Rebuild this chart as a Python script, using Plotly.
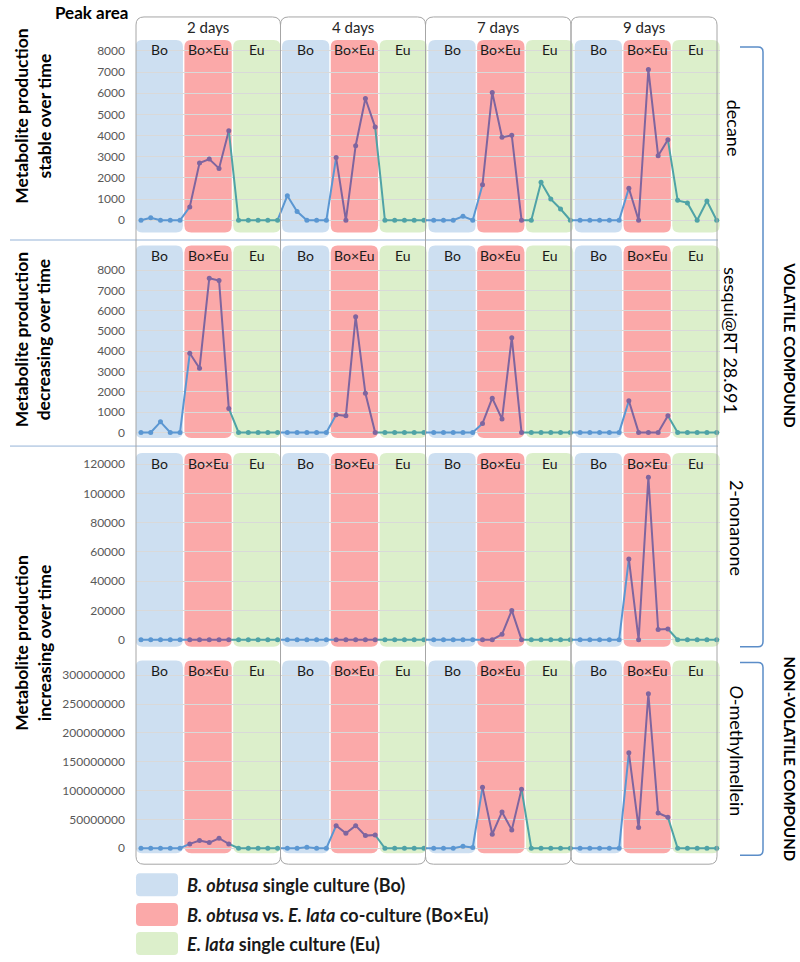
import plotly.graph_objects as go

W, H = 800, 962

days = ["2 days", "4 days", "7 days", "9 days"]
groups = ["Bo", "Bo×Eu", "Eu"]
compounds = ["decane", "sesqui@RT 28.691", "2-nonanone", "<i>O</i>-methylmellein"]

# peak areas, 15 samples per day: 5 Bo, 5 Bo×Eu, 5 Eu
decane = [
    0, 120, 0, 0, 0,  630, 2700, 2890, 2450, 4230,  0, 0, 0, 0, 0,
    1160, 410, 0, 0, 0,  2960, 0, 3520, 5750, 4400,  0, 0, 0, 0, 0,
    0, 0, 0, 190, 0,  1680, 6040, 3920, 4010, 0,  0, 1790, 1000, 530, 0,
    0, 0, 0, 0, 0,  1510, 0, 7120, 3050, 3800,  940, 820, 0, 910, 0,
]
sesqui = [
    0, 0, 520, 0, 0,  3900, 3160, 7600, 7490, 1180,  0, 0, 0, 0, 0,
    0, 0, 0, 0, 0,  870, 820, 5700, 1930, 0,  0, 0, 0, 0, 0,
    0, 0, 0, 0, 0,  440, 1690, 660, 4670, 0,  0, 0, 0, 0, 0,
    0, 0, 0, 0, 0,  1560, 0, 0, 0, 820,  0, 0, 0, 0, 0,
]
nonanone = [
    0, 0, 0, 0, 0,  0, 0, 0, 0, 0,  0, 0, 0, 0, 0,
    0, 0, 0, 0, 0,  0, 0, 0, 0, 0,  0, 0, 0, 0, 0,
    0, 0, 0, 0, 0,  0, 0, 3640, 20000, 0,  0, 0, 0, 0, 0,
    0, 0, 0, 0, 0,  55200, 0, 110900, 7000, 7270,  0, 0, 0, 0, 0,
]
methylmellein = [
    0, 0, 0, 0, 0,  7500000, 13300000, 9800000, 17300000, 7500000,  0, 0, 0, 0, 0,
    0, 0, 1700000, 0, 0,  39200000, 26000000, 39200000, 21900000, 23000000,  0, 0, 0, 0, 0,
    0, 0, 0, 3500000, 1200000,  105600000, 24200000, 62900000, 31700000, 102500000,  0, 0, 0, 0, 0,
    0, 0, 0, 0, 0,  165600000, 35800000, 268000000, 61100000, 53700000,  0, 0, 0, 0, 0,
]
series = [decane, sesqui, nonanone, methylmellein]

# row layout: pixel top/bottom, axis range, tick step
rows = [
    dict(top=40, bot=233, rng=[-580, 8520], ticks=list(range(0, 8001, 1000))),
    dict(top=246, bot=439, rng=[-280, 9215], ticks=list(range(0, 8001, 1000))),
    dict(top=454, bot=648, rng=[-4770, 127500], ticks=list(range(0, 120001, 20000))),
    dict(top=662, bot=855, rng=[-8.66e6, 325.4e6], ticks=list(range(0, 300000001, 50000000))),
]

fill_col = ["#cddff1", "#fba9a9", "#dcefcb"]
line_col = ["#5b97d2", "#7f659f", "#4fa3a6"]
FONT = "Lato, Open Sans, sans-serif"


def px(x):
    return x / W


def py(y):
    return 1 - y / H


def rrect(x0, x1, y0, y1, rx, ry):
    return (f"M{x0+rx},{y0} L{x1-rx},{y0} Q{x1},{y0} {x1},{y0+ry} "
            f"L{x1},{y1-ry} Q{x1},{y1} {x1-rx},{y1} L{x0+rx},{y1} "
            f"Q{x0},{y1} {x0},{y1-ry} L{x0},{y0+ry} Q{x0},{y0} {x0+rx},{y0} Z")


def label(text, x, y, size, xref="paper", angle=0, color="black", xanchor="center"):
    return dict(text=text, xref=xref, yref="paper", x=x, y=y, textangle=angle,
                xanchor=xanchor, yanchor="middle", showarrow=False,
                font=dict(size=size, color=color, family=FONT))


fig = go.Figure()
shapes = []
annotations = []
n = len(decane)
xs = list(range(n))

for r, (row, vals) in enumerate(zip(rows, series), start=1):
    xa, ya = f"x{r}", f"y{r}"
    # line segments coloured by group
    for g in range(3):
        lx, ly = [], []
        for d in range(4):
            s = d * 15 + g * 5
            idx = list(range(s, s + 5))
            if g == 0:
                if d > 0:
                    idx = [s - 1] + idx
                idx = idx + [s + 5]
            elif g == 2:
                idx = [s - 1] + idx
            lx += [xs[i] for i in idx] + [None]
            ly += [vals[i] for i in idx] + [None]
        fig.add_trace(go.Scatter(x=lx, y=ly, mode="lines", xaxis=xa, yaxis=ya,
                                 line=dict(color=line_col[g], width=2),
                                 showlegend=False, hoverinfo="skip"))
    for g in range(3):
        mx = [xs[i] for i in range(n) if (i % 15) // 5 == g]
        my = [vals[i] for i in range(n) if (i % 15) // 5 == g]
        fig.add_trace(go.Scatter(x=mx, y=my, mode="markers", xaxis=xa, yaxis=ya,
                                 marker=dict(color=line_col[g], size=5),
                                 showlegend=False))

    fig.update_layout(**{
        f"xaxis{r}": dict(domain=[px(136), px(720)], range=[-0.51, 59.34],
                          visible=False, anchor=ya),
        f"yaxis{r}": dict(domain=[py(row["bot"]), py(row["top"])], range=row["rng"],
                          tickvals=row["ticks"], tickformat="d", anchor=xa,
                          showgrid=True, gridcolor="#d9d9d9", gridwidth=1,
                          zeroline=False, showline=False, ticklabelstandoff=10,
                          tickfont=dict(size=12, color="#595959", family=FONT)),
    })

    # coloured group regions + group labels
    for k in range(12):
        g = k % 3
        x0, x1 = 5 * k - 0.55, 5 * k + 4.3
        shapes.append(dict(type="path", xref=xa, yref="paper", layer="below",
                           path=rrect(x0, x1, py(row["bot"]), py(row["top"]),
                                      0.7, 7 / H),
                           fillcolor=fill_col[g], line=dict(width=0)))
        annotations.append(label(groups[g], (x0 + x1) / 2, py(row["top"] + 10), 14,
                                 xref=xa, color="#1a1a1a"))

# day boxes
box_x = [136, 280.5, 425.5, 571, 717]
for d in range(4):
    shapes.append(dict(type="path", xref="paper", yref="paper", layer="above",
                       path=rrect(px(box_x[d]), px(box_x[d + 1]), py(866), py(17),
                                  8 / W, 8 / H),
                       line=dict(color="#a6a6a6", width=1)))
    annotations.append(label(days[d], px((box_x[d] + box_x[d + 1]) / 2), py(27), 15,
                             color="#262626"))

# horizontal row separators
for yy in [240.5, 447]:
    shapes.append(dict(type="line", xref="paper", yref="paper", layer="below",
                       x0=px(10), x1=px(718), y0=py(yy), y1=py(yy),
                       line=dict(color="#95b3d7", width=1)))

# brackets on the right
for t, b in [(47, 648), (664, 857)]:
    path = (f"M{px(740)},{py(t)} L{px(758)},{py(t)} Q{px(763)},{py(t)} {px(763)},{py(t+5)} "
            f"L{px(763)},{py(b-5)} Q{px(763)},{py(b)} {px(758)},{py(b)} L{px(740)},{py(b)}")
    shapes.append(dict(type="path", xref="paper", yref="paper", path=path,
                       line=dict(color="#5b8dc8", width=1.5)))

annotations.append(label("<b>Peak area</b>", px(91), py(13), 17))

for txt, yc in [("Metabolite production<br>stable over time", 117),
                ("Metabolite production<br>decreasing over time", 341),
                ("Metabolite production<br>increasing over time", 645)]:
    annotations.append(label(f"<b>{txt}</b>", px(33), py(yc), 17.5, angle=-90))

for txt, xc, yc in zip(compounds, [734, 731, 737, 737], [128, 341, 529, 752]):
    annotations.append(label(txt, px(xc), py(yc), 18, angle=90))

for txt, yc in [("VOLATILE COMPOUND", 345), ("NON-VOLATILE COMPOUND", 760)]:
    annotations.append(label(f"<b>{txt}</b>", px(790), py(yc), 15, angle=90))

# legend
legend_txt = ["<b><i>B. obtusa</i> single culture (Bo)</b>",
              "<b><i>B. obtusa</i> vs. <i>E. lata</i> co-culture (Bo×Eu)</b>",
              "<b><i>E. lata</i> single culture (Eu)</b>"]
for i, (txt, yt) in enumerate(zip(legend_txt, [875, 905, 934])):
    shapes.append(dict(type="path", xref="paper", yref="paper",
                       path=rrect(px(136), px(178), py(yt + 23), py(yt), 4 / W, 4 / H),
                       fillcolor=fill_col[i], line=dict(width=0)))
    annotations.append(label(txt, px(185), py(yt + 12), 18, color="#1a1a1a",
                             xanchor="left"))

fig.update_layout(width=W, height=H, margin=dict(l=0, r=0, t=0, b=0),
                  paper_bgcolor="white", plot_bgcolor="rgba(0,0,0,0)",
                  shapes=shapes, annotations=annotations, showlegend=False)

fig.write_html("out.html", config={"displayModeBar": False},
               post_script="document.body.style.margin='0px';")
